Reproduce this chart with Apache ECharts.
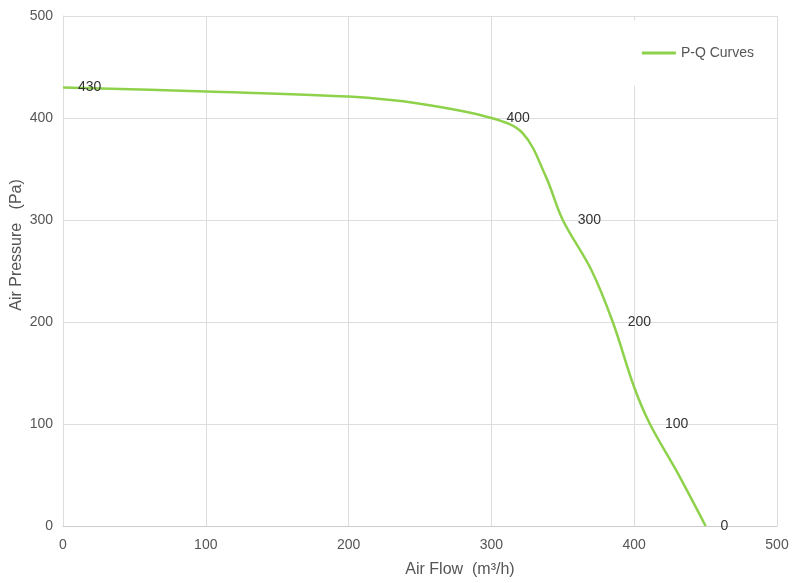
<!DOCTYPE html>
<html>
<head>
<meta charset="utf-8">
<script src="https://cdn.jsdelivr.net/npm/echarts@6/dist/echarts.min.js"></script>
<style>
  html, body { margin: 0; padding: 0; background: #fff; }
  #main { width: 802px; height: 583px; }
</style>
</head>
<body>
<div id="main"></div>
<script>
// P-Q curve
const flowValues = [0, 100, 200, 250, 300, 322, 338, 350, 370, 385, 400, 411, 430, 450];
const pressureValues = [430, 426, 421, 414, 400, 385, 343, 300, 251, 200, 136, 100, 53, 0];
// points that carry a value label
const labelledPressures = [430, 400, 300, 200, 100, 0];
const labelledFlows = [0, 300, 350, 385, 411, 450];
const axisTicks = [0, 100, 200, 300, 400, 500];

const font = 'Liberation Sans, Arial, sans-serif';

let myChart = echarts.init(document.getElementById('main'));

let seriesData = flowValues.map(function (x, i) {
  let show = labelledFlows.indexOf(x) >= 0 && labelledPressures.indexOf(pressureValues[i]) >= 0;
  return {
    value: [x, pressureValues[i]],
    label: { show: show }
  };
});

let chartOption = {
  backgroundColor: '#fff',
  textStyle: { fontFamily: font },
  grid: { left: 63, right: 25, top: 16, bottom: 57, containLabel: false, outerBoundsMode: 'none' },
  legend: {
    data: ['P-Q Curves'],
    right: 30,
    top: 20,
    padding: [26, 18],
    backgroundColor: '#fff',
    icon: 'rect',
    itemWidth: 34,
    itemHeight: 3,
    itemGap: 4,
    textStyle: { color: '#555', fontSize: 14, fontFamily: font },
    z: 10
  },
  xAxis: {
    type: 'value',
    min: axisTicks[0],
    max: axisTicks[axisTicks.length - 1],
    interval: 100,
    name: 'Air Flow  (m³/h)',
    nameLocation: 'middle',
    nameGap: 36,
    nameMoveOverlap: false,
    nameTextStyle: { color: '#555', fontSize: 16, fontFamily: font, padding: [0, 0, 0, 80] },
    axisLine: { show: true, lineStyle: { color: '#ccc' } },
    axisTick: { show: false },
    axisLabel: { color: '#555', fontSize: 14, margin: 12, fontFamily: font },
    splitLine: { show: true, lineStyle: { color: '#ddd' } }
  },
  yAxis: {
    type: 'value',
    min: axisTicks[0],
    max: axisTicks[axisTicks.length - 1],
    interval: 100,
    name: 'Air Pressure   (Pa)',
    nameLocation: 'middle',
    nameGap: 38,
    nameMoveOverlap: false,
    nameTextStyle: { color: '#555', fontSize: 16, fontFamily: font, padding: [0, 0, 0, 52] },
    axisLine: { show: true, lineStyle: { color: '#ddd' } },
    axisTick: { show: false },
    axisLabel: { color: '#555', fontSize: 14, margin: 10, fontFamily: font },
    splitLine: { show: true, lineStyle: { color: '#ddd' } }
  },
  series: [
    {
      name: 'P-Q Curves',
      type: 'line',
      data: seriesData,
      smooth: 0.35,
      symbol: 'circle',
      symbolSize: 0,
      showSymbol: true,
      lineStyle: { color: '#8ed24c', width: 2.5 },
      itemStyle: { color: '#8ed24c' },
      label: {
        position: 'right',
        distance: 15,
        color: '#333',
        fontSize: 14,
        fontFamily: font,
        formatter: function (p) { return p.value[1]; }
      }
    }
  ]
};

chartOption && myChart.setOption(chartOption);
</script>
</body>
</html>
